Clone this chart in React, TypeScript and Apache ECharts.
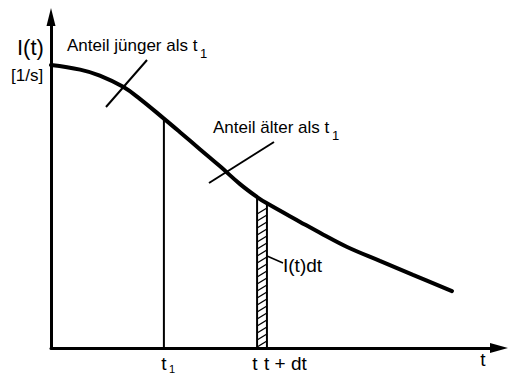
import React, { useEffect, useRef } from "react";
import * as echarts from "echarts";

// Intensity curve I(t) read along the time axis
const tValues = [0, 0.65, 1.09, 1.61, 1.99, 2.52, 2.88, 3.33, 3.78, 4.22, 4.6, 4.82, 5.56, 6.07, 6.61, 7.34, 8.08, 8.95];
const iValues = [8.55, 8.41, 8.23, 7.89, 7.52, 6.93, 6.52, 6.0, 5.48, 4.95, 4.56, 4.37, 3.81, 3.43, 3.05, 2.63, 2.21, 1.72];

// Marked instants on the time axis
const t1 = 2.52;
const tStrip = 4.6;
const dt = 0.22;

const FONT = "'Liberation Sans', Arial, Helvetica, sans-serif";

const valueAt = (t: number) => {
  const idx = tValues.findIndex((v) => Math.abs(v - t) < 1e-9);
  return iValues[idx];
};

const axisCommon = {
  type: "value" as const,
  min: 0,
  max: 10,
  axisTick: { show: false },
  axisLabel: { show: false },
  splitLine: { show: false },
};

export default function App() {
  const ref = useRef<HTMLDivElement>(null);

  useEffect(() => {
    if (!ref.current) return;
    const chart = echarts.init(ref.current, null, { renderer: "svg", width: 508, height: 376 });

    const curve = tValues.map((t, i) => [t, iValues[i]]);
    const tEnd = +(tStrip + dt).toFixed(4);

    const txt = (text: string, x: number, y: number, size: number, align = "left") => ({
      type: "text",
      x,
      y,
      silent: true,
      style: {
        text,
        fill: "#000",
        font: `${size}px ${FONT}`,
        align,
        verticalAlign: "middle",
      },
    });
    const seg = (x1: number, y1: number, x2: number, y2: number, w: number) => ({
      type: "line",
      silent: true,
      shape: { x1, y1, x2, y2 },
      style: { stroke: "#000", lineWidth: w },
    });

    chart.setOption({
      animation: false,
      backgroundColor: "#fff",
      grid: { left: 51, right: 9, top: 17, bottom: 28 },
      xAxis: {
        ...axisCommon,
        axisLine: {
          show: true,
          symbol: ["none", "triangle"],
          symbolSize: [10, 18],
          lineStyle: { color: "#000", width: 3 },
        },
      },
      yAxis: {
        ...axisCommon,
        axisLine: {
          show: true,
          symbol: ["none", "triangle"],
          symbolSize: [9, 18],
          lineStyle: { color: "#000", width: 3 },
        },
      },
      series: [
        {
          // hatched strip I(t)dt between t and t + dt
          type: "custom",
          coordinateSystem: "cartesian2d",
          encode: { x: [0, 1], y: [2, 3] },
          data: [[tStrip, tEnd, valueAt(tStrip), valueAt(tEnd)]],
          renderItem: (params: any, api: any) => {
            const a = api.value(0);
            const b = api.value(1);
            const bl = api.coord([a, 0]);
            const br = api.coord([b, 0]);
            const tl = api.coord([a, api.value(2)]);
            const tr = api.coord([b, api.value(3)]);
            const children: any[] = [
              { type: "line", shape: { x1: tl[0], y1: tl[1], x2: bl[0], y2: bl[1] }, style: { stroke: "#000", lineWidth: 2 } },
              { type: "line", shape: { x1: tr[0], y1: tr[1], x2: br[0], y2: br[1] }, style: { stroke: "#000", lineWidth: 2 } },
            ];
            const rise = 6;
            for (let y = bl[1] - 1; y - rise > tr[1] + 1; y -= 7) {
              children.push({
                type: "line",
                shape: { x1: bl[0], y1: y, x2: br[0], y2: y - rise },
                style: { stroke: "#000", lineWidth: 1.4 },
              });
            }
            return { type: "group", children };
          },
          silent: true,
          z: 2,
        },
        {
          // ordinate at t1
          type: "line",
          data: [
            [t1, 0],
            [t1, valueAt(t1)],
          ],
          showSymbol: false,
          lineStyle: { color: "#000", width: 2 },
          silent: true,
          z: 2,
        },
        {
          type: "line",
          data: curve,
          smooth: 0.4,
          showSymbol: false,
          lineStyle: { color: "#000", width: 4, cap: "round" },
          silent: true,
          z: 3,
        },
      ],
      graphic: [
        txt("I(t)", 17, 47, 22),
        txt("[1/s]", 11, 75, 17),
        txt("Anteil jünger als t", 67, 45, 17),
        txt("1", 200, 53, 13),
        seg(147, 60, 106, 107, 2),
        txt("Anteil älter als t", 213, 127, 17),
        txt("1", 332, 135, 13),
        seg(274, 142, 209, 183, 2),
        txt("I(t)dt", 283, 265, 19),
        seg(267, 256, 283, 263, 1.5),
        txt("t", 164, 363, 19, "center"),
        txt("1", 172, 369, 11, "center"),
        txt("t", 255, 363, 19, "center"),
        txt("t + dt", 264, 363, 19),
        txt("t", 483, 359, 19, "center"),
      ],
    });

    return () => chart.dispose();
  }, []);

  return (
    <div
      ref={ref}
      style={{ position: "absolute", left: 0, top: 0, width: 508, height: 376, background: "#fff" }}
    />
  );
}
